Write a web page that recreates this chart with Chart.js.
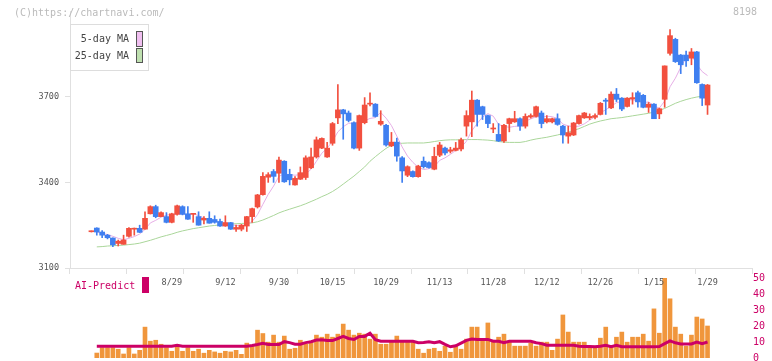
<!DOCTYPE html>
<html><head><meta charset="utf-8">
<script src="https://cdn.jsdelivr.net/npm/chart.js@4/dist/chart.umd.min.js"></script>
<style>
html,body{margin:0;padding:0;background:#fff;}
#wrap{position:relative;width:772px;height:361px;overflow:hidden;font-family:"DejaVu Sans Mono",monospace;}
canvas{position:absolute;left:0;top:0;}
.t{position:absolute;white-space:nowrap;line-height:12px;font-size:10px;}
</style></head><body>
<div id="wrap">
<canvas id="c2" width="772" height="372"></canvas>
<canvas id="c1" width="772" height="361"></canvas>
<div class="t" style="left:14px;top:7px;color:#bbb">(C)https://chartnavi.com/</div>
<div class="t" style="left:733px;top:6px;color:#bbb">8198</div>
<div style="position:absolute;left:70px;top:24px;width:77px;height:45px;border:1px solid #ddd;background:#fff;"></div>
<div class="t" style="left:0;width:129px;text-align:right;top:33px;color:#444">5-day MA</div>
<div class="t" style="left:0;width:129px;text-align:right;top:50px;color:#444">25-day MA</div>
<div style="position:absolute;left:136px;top:31px;width:7px;height:16px;box-sizing:border-box;border:1px solid #555;background:#f0bff0;"></div>
<div style="position:absolute;left:136px;top:48px;width:7px;height:15px;box-sizing:border-box;border:1px solid #555;background:#bfe0b0;"></div>
<div class="t" style="left:75px;top:280px;color:#cc0066">AI-Predict</div>
<div style="position:absolute;left:142px;top:277px;width:7px;height:16px;background:#cc0066;"></div>
</div>
<script>
const dates = ['8/7','8/8','8/12','8/13','8/14','8/15','8/18','8/19','8/20','8/21','8/22','8/25','8/26','8/27','8/28','8/29','9/1','9/2','9/3','9/4','9/5','9/8','9/9','9/10','9/11','9/12','9/16','9/17','9/18','9/19','9/22','9/24','9/25','9/26','9/29','9/30','10/1','10/2','10/3','10/6','10/7','10/8','10/9','10/10','10/14','10/15','10/16','10/17','10/20','10/21','10/22','10/23','10/24','10/27','10/28','10/29','10/30','10/31','11/4','11/5','11/6','11/7','11/10','11/11','11/12','11/13','11/14','11/17','11/18','11/19','11/20','11/21','11/25','11/26','11/27','11/28','12/1','12/2','12/3','12/4','12/5','12/8','12/9','12/10','12/11','12/12','12/15','12/16','12/17','12/18','12/19','12/22','12/23','12/24','12/25','12/26','12/29','12/30','1/5','1/6','1/7','1/8','1/9','1/13','1/14','1/15','1/16','1/19','1/20','1/21','1/22','1/23','1/26','1/27','1/28','1/29'];

const open = [3227,3240,3226,3215,3205,3186,3183,3211,3236,3239,
 3236,3290,3315,3280,3280,3260,3288,3315,3290,3288,
 3280,3268,3274,3270,3263,3247,3259,3236,3236,3247,
 3280,3314,3357,3418,3438,3432,3474,3428,3391,3411,
 3417,3451,3489,3520,3489,3537,3626,3654,3643,3609,
 3520,3609,3674,3674,3604,3600,3528,3541,3486,3425,
 3438,3420,3474,3469,3446,3495,3520,3509,3512,3517,
 3597,3612,3688,3665,3634,3587,3568,3545,3606,3612,
 3623,3597,3629,3631,3643,3612,3612,3623,3597,3562,
 3566,3606,3626,3626,3628,3638,3688,3661,3709,3695,
 3666,3692,3714,3705,3663,3674,3640,3691,3852,3901,
 3846,3846,3835,3857,3743,3671];
const high = [3230,3241,3231,3218,3206,3198,3215,3242,3240,3250,
 3297,3318,3320,3297,3294,3292,3320,3318,3315,3291,
 3297,3280,3297,3283,3271,3283,3260,3250,3253,3281,
 3310,3358,3434,3434,3445,3489,3476,3446,3420,3454,
 3493,3520,3559,3556,3540,3610,3743,3656,3650,3612,
 3636,3697,3714,3676,3651,3603,3575,3555,3490,3458,
 3440,3460,3489,3472,3523,3540,3524,3523,3540,3555,
 3651,3720,3690,3667,3636,3606,3606,3603,3625,3649,
 3626,3640,3640,3667,3650,3634,3625,3640,3600,3597,
 3610,3636,3645,3640,3640,3680,3694,3717,3729,3697,
 3697,3714,3720,3708,3680,3676,3660,3808,3935,3905,
 3848,3860,3869,3859,3745,3743];
const low = [3226,3215,3206,3202,3175,3177,3183,3208,3215,3224,
 3236,3289,3276,3280,3258,3258,3285,3286,3270,3260,
 3250,3254,3257,3257,3246,3246,3235,3228,3230,3228,
 3260,3310,3355,3400,3400,3400,3400,3391,3390,3410,
 3410,3448,3485,3518,3487,3530,3606,3551,3612,3517,
 3512,3605,3668,3629,3600,3527,3525,3474,3400,3420,
 3418,3418,3450,3450,3444,3490,3496,3503,3510,3510,
 3562,3560,3597,3620,3592,3574,3543,3540,3577,3610,
 3582,3590,3625,3628,3591,3608,3608,3600,3537,3537,
 3564,3604,3624,3620,3622,3636,3638,3658,3683,3651,
 3664,3674,3663,3661,3645,3623,3623,3663,3846,3820,
 3781,3806,3812,3747,3669,3638];
const close = [3229,3226,3215,3206,3181,3194,3198,3239,3239,3225,
 3274,3315,3280,3294,3260,3290,3318,3288,3271,3290,
 3250,3274,3257,3260,3247,3259,3236,3242,3250,3280,
 3308,3356,3421,3427,3421,3478,3402,3409,3414,3434,
 3486,3489,3549,3554,3520,3606,3654,3640,3617,3520,
 3634,3671,3677,3631,3614,3531,3541,3492,3440,3455,
 3420,3457,3455,3452,3491,3531,3503,3514,3520,3549,
 3634,3688,3638,3638,3606,3589,3545,3600,3623,3623,
 3597,3631,3634,3665,3606,3623,3623,3603,3566,3574,
 3608,3634,3643,3631,3634,3677,3684,3709,3691,3657,
 3695,3697,3682,3663,3674,3623,3658,3808,3914,3823,
 3812,3826,3857,3749,3695,3741];
const ma5 = [null,3226,3222,3217,3211,3204,3199,3204,3210,3219,
 3235,3258,3267,3278,3285,3288,3288,3290,3285,3291,
 3283,3275,3268,3266,3258,3259,3252,3249,3247,3253,
 3263,3287,3323,3358,3387,3421,3430,3427,3425,3427,
 3429,3446,3474,3502,3520,3544,3577,3595,3607,3607,
 3613,3616,3624,3627,3645,3625,3599,3562,3524,3492,
 3470,3453,3445,3448,3455,3477,3486,3498,3512,3523,
 3544,3581,3606,3629,3641,3632,3603,3596,3593,3596,
 3598,3615,3622,3630,3627,3632,3630,3624,3604,3598,
 3595,3597,3605,3618,3630,3644,3654,3667,3679,3684,
 3687,3690,3684,3679,3682,3668,3660,3685,3735,3765,
 3803,3837,3846,3813,3788,3774];
const ma25 = [null,3174,3175,3177,3178,3179,3180,3182,3184,3187,
 3192,3197,3203,3209,3214,3219,3225,3230,3234,3238,
 3241,3244,3247,3249,3251,3253,3254,3255,3256,3257,
 3258,3262,3268,3276,3284,3293,3300,3306,3312,3318,
 3325,3333,3341,3350,3358,3368,3380,3394,3408,3422,
 3438,3454,3474,3490,3505,3519,3530,3536,3537,3538,
 3538,3538,3538,3540,3543,3546,3548,3549,3549,3549,
 3550,3550,3550,3549,3548,3546,3543,3541,3540,3540,
 3540,3543,3548,3552,3555,3558,3562,3566,3571,3576,
 3582,3588,3596,3604,3610,3615,3619,3623,3625,3627,
 3630,3633,3636,3639,3642,3646,3652,3659,3668,3677,
 3684,3690,3695,3699,3702,3704];
const volume = [null,3.1,6.5,6.5,6.5,5.5,2.5,6.5,2.5,4.8,
 19.3,10.5,11.1,8.6,6.5,4.2,8.2,4.2,6.5,4.2,
 5.5,3,4.8,3.8,3,4.2,3.8,4.8,2.3,9.3,
 7.4,17.4,15.3,9.9,14.3,9.9,13.7,5.5,6.1,11.1,
 8.6,10.5,14.3,13,14.9,13,14.9,21.2,17.4,14.3,
 15.5,14.9,11.8,14.9,8.6,8.6,10.5,13.7,10.5,10.5,
 10.5,5.5,3,5.5,6.1,4.2,7.4,3.6,7.4,5.5,
 11.8,19.3,19.3,11.1,21.9,11.1,13,14.9,10.5,7.4,
 7.4,7.4,9.3,7.4,9.9,9.9,4.8,11.8,26.9,16.2,
 9.9,9.9,9.9,7.4,7.4,12.4,19.3,7.4,13,16.2,
 9.9,13,13,14.9,10.5,30.7,15.5,50,37,19.3,
 14.9,7.4,14.3,25.6,24.4,20];
const aiPredict = [null,7.4,7.4,7.4,7.4,7.4,7.4,7.4,7.4,7.4,
 7.4,7.4,7.4,7.4,7.4,7.4,8.0,7.4,7.4,7.4,
 7.4,7.4,7.4,7.4,7.4,7.4,7.4,7.4,7.4,7.4,
 7.8,8.4,9.2,8.4,8.4,8.4,10.2,9.6,8.6,8.6,
 9.6,10.2,11.2,11.4,10.9,10.9,12.2,13.5,12.2,11.6,
 13.5,13.5,15.5,11.5,10.5,10.5,10.5,10.5,10.5,10.5,
 10.5,9.5,9.7,10.2,9.5,10.2,8.5,7.0,7.6,9.3,
 11.0,11.8,11.6,11.6,11.6,10.5,10.5,9.5,10.5,10.5,
 10.5,10.5,10.5,9.5,9.0,8.0,8.0,8.0,8.0,8.0,
 8.0,7.4,7.2,7.2,7.0,7.4,8.0,7.0,8.0,7.0,
 7.0,7.0,7.0,7.0,7.0,7.0,7.2,9.0,10.7,9.5,
 8.8,8.8,8.8,10.0,9.0,10.0];
const xTickDates = ['8/29','9/12','9/30','10/15','10/29','11/13','11/28','12/12','12/26','1/15','1/29'];
const yTicks = [3100,3400,3700];
const volTicks = [0,10,20,30,40,50];

const UP = '#f2503f', DOWN = '#3f7ff0';
const FONT = '"DejaVu Sans Mono", monospace';
const idx = dates.map((d,i)=>i);
const candleColor = idx.map(i => close[i] >= open[i] ? UP : DOWN);
const XMIN = -4, XMAX = 123.3;

new Chart(document.getElementById('c1'), {
  type: 'bar',
  data: { datasets: [
    { type:'line', data: idx.map(i=>({x:i, y:ma25[i]})), borderColor:'#aad69a', borderWidth:1, pointRadius:0, order:3, spanGaps:false },
    { type:'line', data: idx.map(i=>({x:i, y:ma5[i]})), borderColor:'#e6aee6', borderWidth:1, pointRadius:0, order:2, spanGaps:false },
    { data: idx.map(i=>({x:i, y:[low[i], high[i]]})), backgroundColor: candleColor, barThickness:1, grouped:false, borderWidth:0, order:1 },
    { data: idx.map(i=>({x:i, y:[open[i], close[i]]})), backgroundColor: candleColor, barThickness:5, grouped:false, borderWidth:0, minBarLength:1, order:0 }
  ]},
  options: {
    responsive:false, animation:false,
    layout:{ padding:{ left:0, right:20, top:6, bottom:65 } },
    plugins:{ legend:{display:false}, tooltip:{enabled:false} },
    scales:{
      x:{ type:'linear', min:XMIN, max:XMAX, offset:false, weight:1,
          afterBuildTicks: s => { s.ticks = xTickDates.map(d=>({value: dates.indexOf(d)})); },
          afterFit: s => { s.height = 22; },
          ticks:{ callback: v => dates[v], color:'#555', font:{family:FONT, size:8.5}, padding:4, maxRotation:0, autoSkip:false },
          grid:{ display:false, drawTicks:false }, border:{ display:false } },
      xg:{ type:'linear', position:'bottom', min:0, max:11, weight:0,
          ticks:{ display:false, stepSize:1 },
          afterFit: s => { s.height = 6; },
          grid:{ drawOnChartArea:false, drawTicks:true, tickLength:6, color:'#e0e0e0' }, border:{ color:'#e0e0e0' } },
      y:{ position:'left', min:3100, max:4000,
          afterBuildTicks: s => { s.ticks = yTicks.map(v=>({value:v})); },
          afterFit: s => { s.width = 70; },
          ticks:{ callback: v => String(v), color:'#555', font:{family:FONT, size:8.5}, padding:6 },
          grid:{ drawOnChartArea:false, drawTicks:true, tickLength:5, color:'#e0e0e0' }, border:{ color:'#e0e0e0' } }
    }
  }
});

new Chart(document.getElementById('c2'), {
  type: 'bar',
  data: { datasets: [
    { type:'line', data: idx.map(i=>({x:i, y:aiPredict[i]})), borderColor:'#cc0066', borderWidth:3, pointRadius:0, order:0 },
    { data: idx.map(i=>({x:i, y:volume[i]})), backgroundColor:'#f0963c', barThickness:4, borderWidth:0, order:1 }
  ]},
  options: {
    responsive:false, animation:false,
    layout:{ padding:{ left:70, right:0, top:278, bottom:14 } },
    plugins:{ legend:{display:false}, tooltip:{enabled:false} },
    scales:{
      x:{ type:'linear', min:XMIN, max:XMAX, offset:false, display:false },
      y:{ position:'right', min:0, max:50,
          afterBuildTicks: s => { s.ticks = volTicks.map(v=>({value:v})); },
          afterFit: s => { s.width = 20; },
          ticks:{ callback: v => String(v), color:'#cc0066', font:{family:FONT, size:10}, padding:1 },
          grid:{ display:false, drawTicks:false }, border:{ display:false } }
    }
  }
});
</script>
</body></html>
